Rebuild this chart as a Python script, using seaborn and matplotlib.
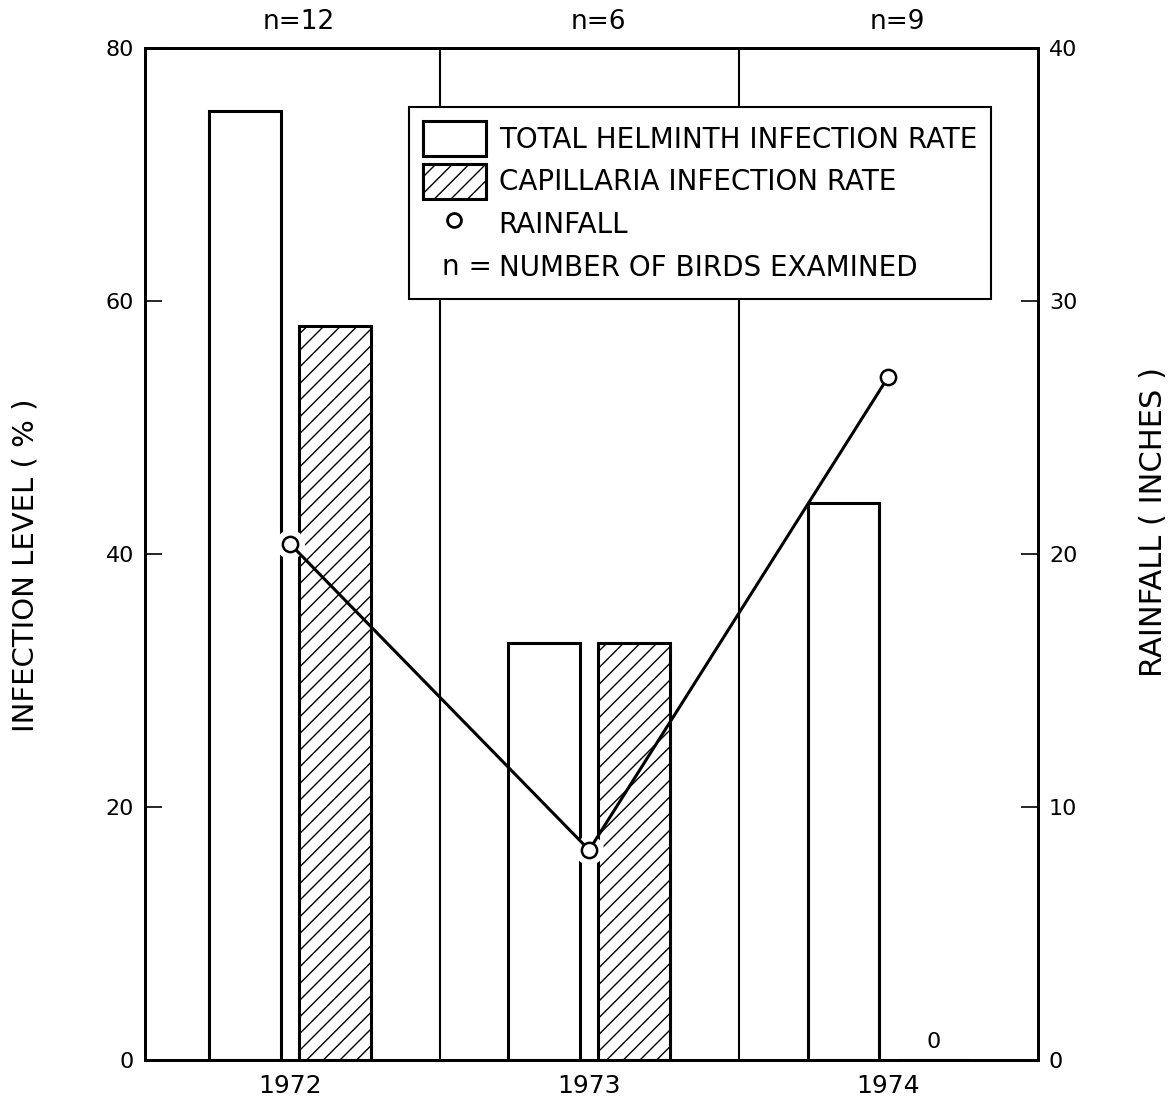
import matplotlib
matplotlib.use("Agg")
import matplotlib.pyplot as plt
import matplotlib.text as mtext
from matplotlib.legend_handler import HandlerBase
from matplotlib.patches import Patch
from matplotlib.lines import Line2D
import seaborn as sns
import pandas as pd

# ---- data ----
years = ["1972", "1973", "1974"]
total_rate = [75, 33, 44]          # total helminth infection rate (%)
capillaria_rate = [58, 33, 0]      # capillaria infection rate (%)
rainfall = [20.4, 8.3, 27.0]       # rainfall (inches)
n_birds = [12, 6, 9]
left_ticks = [0, 20, 40, 60, 80]
right_ticks = [0, 10, 20, 30, 40]
series_names = ["TOTAL HELMINTH INFECTION RATE", "CAPILLARIA INFECTION RATE"]

sns.set_theme(style="white")
plt.rcParams["font.family"] = ["DejaVu Sans"]
plt.rcParams["hatch.linewidth"] = 1.0
plt.rcParams["hatch.color"] = "black"
for k in ["text.color", "axes.labelcolor", "xtick.color", "ytick.color", "axes.edgecolor"]:
    plt.rcParams[k] = "black"

df = pd.DataFrame({
    "year": years * 2,
    "rate": total_rate + capillaria_rate,
    "series": [series_names[0]] * 3 + [series_names[1]] * 3,
})

fig = plt.figure(figsize=(11.74, 11.06), dpi=100)
ax = fig.add_axes([0.1235, 0.0416, 0.7605, 0.915])

sns.barplot(data=df, x="year", y="rate", hue="series",
            palette={series_names[0]: "white", series_names[1]: "white"},
            edgecolor="black", linewidth=2.2, width=0.6, gap=0.2,
            saturation=1, ax=ax, legend=False, zorder=2)
for bar in ax.containers[1]:
    bar.set_hatch("//")

# category separators
for xs in [0.5, 1.5]:
    ax.axvline(xs, color="black", lw=1.5, zorder=1)

ax.set_ylim(0, 80)
ax.set_yticks(left_ticks)
ax.set_xlabel("")
ax.set_ylabel("INFECTION LEVEL ( % )", fontsize=21, rotation=90,
              ha="center", va="center")
ax.yaxis.set_label_coords(-0.134, 0.489)
ax.tick_params(axis="y", direction="in", length=12, width=1.2, labelsize=16,
               pad=8, left=True, right=False)
ax.tick_params(axis="x", length=0, labelsize=18, pad=10)
for s in ax.spines.values():
    s.set_color("black")
    s.set_linewidth(2)

# n labels above
for i, n in enumerate(n_birds):
    ax.text(i + 0.03, 1.026, f"n={n}", transform=ax.get_xaxis_transform(),
            ha="center", va="center", fontsize=19)

# zero label for 1974 capillaria
ax.text(2 + 0.15, capillaria_rate[2] + 0.6, str(capillaria_rate[2]),
        ha="center", va="bottom", fontsize=16)

# rainfall on twin axis
ax2 = ax.twinx()
sns.pointplot(x=years, y=rainfall, ax=ax2, color="white", linestyle="none",
              markers="o", markersize=19, errorbar=None, zorder=3)
sns.pointplot(x=years, y=rainfall, ax=ax2, color="black", markers="o",
              markersize=11, linewidth=2.2, errorbar=None, zorder=4)
for ln in ax2.lines[-1:]:
    ln.set_markerfacecolor("white")
    ln.set_markeredgecolor("black")
    ln.set_markeredgewidth(1.8)
ax2.set_ylim(0, 40)
ax2.set_yticks(right_ticks)
ax2.set_ylabel("RAINFALL ( INCHES )", fontsize=22, rotation=90,
               ha="center", va="center")
ax2.yaxis.set_label_coords(1.13, 0.532)
ax2.tick_params(axis="y", direction="in", length=12, width=1.2, labelsize=16,
                pad=8, left=False, right=True)
for s in ax2.spines.values():
    s.set_color("black")
    s.set_linewidth(2)
ax.set_xlim(-0.485, 2.5)


class TextHandler(HandlerBase):
    def create_artists(self, legend, orig_handle, xdescent, ydescent,
                       width, height, fontsize, trans):
        t = mtext.Text(x=width * 0.7 - xdescent, y=height / 2 - ydescent,
                       text="n =", ha="center", va="center",
                       fontsize=fontsize, transform=trans, color="black")
        return [t]


class NHandle:
    pass


handles = [
    Patch(facecolor="white", edgecolor="black", linewidth=2.2),
    Patch(facecolor="white", edgecolor="black", linewidth=2.2, hatch="//"),
    Line2D([], [], linestyle="none", marker="o", markersize=10,
           markerfacecolor="white", markeredgecolor="black", markeredgewidth=2),
    NHandle(),
]
labels = [series_names[0], series_names[1], "RAINFALL", "NUMBER OF BIRDS EXAMINED"]
leg = ax2.legend(handles, labels, loc="upper left",
                 bbox_to_anchor=(0.296, 0.942), borderaxespad=0,
                 fontsize=20, handlelength=2.25, handleheight=1.6,
                 labelspacing=0.26, handletextpad=0.47, borderpad=0.5,
                 fancybox=False, framealpha=1, edgecolor="black",
                 handler_map={NHandle: TextHandler()})
leg.get_frame().set_linewidth(1.5)

fig.savefig("out.png", dpi=100)
